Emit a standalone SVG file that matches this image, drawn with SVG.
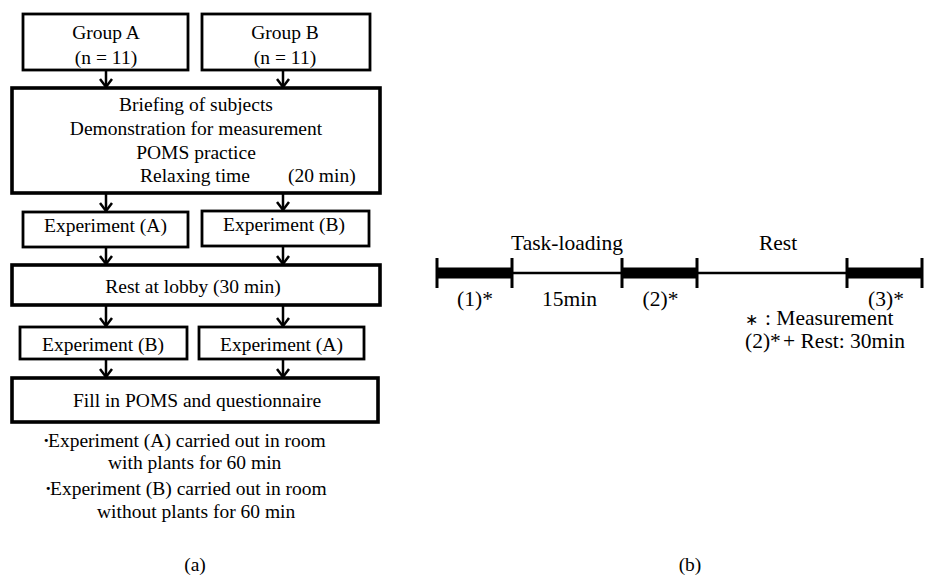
<svg xmlns="http://www.w3.org/2000/svg" width="925" height="576" viewBox="0 0 925 576">
<defs>
<style>
text{font-family:"Liberation Serif","Times New Roman",Times,serif;fill:#000;}
.cjk{font-family:"Noto Sans CJK JP","Noto Sans CJK SC",sans-serif;}
.t{font-size:19.5px;}
.c{text-anchor:middle;}
.r{font-size:21.5px;}
.box{fill:#fff;stroke:#000;stroke-width:2.8;}
.wide{fill:#fff;stroke:#000;stroke-width:3.6;}
.conn line{stroke:#000;stroke-width:2.5;fill:none;}
.tick{stroke:#000;stroke-width:3;}
.thin{stroke:#000;stroke-width:2.5;}
.thick{fill:#000;}
</style>
<marker id="ah" viewBox="-2 -2 14 16" refX="9" refY="6" markerWidth="14" markerHeight="16" markerUnits="userSpaceOnUse" orient="auto">
<path d="M1,0 L9,6 L1,12" fill="none" stroke="#000" stroke-width="2.5"/>
</marker>
</defs>
<rect width="925" height="576" fill="#fff"/>

<g id="groupA">
<rect class="box" x="23" y="14" width="165" height="56"/>
<text class="t c" x="106" y="39">Group A</text>
<text class="t c" x="106" y="64">(n = 11)</text>
</g>
<g id="groupB">
<rect class="box" x="202" y="14" width="168" height="56"/>
<text class="t c" x="285" y="39">Group B</text>
<text class="t c" x="285" y="64">(n = 11)</text>
</g>
<g id="briefing">
<rect class="wide" x="12" y="88" width="368" height="105"/>
<text class="t c" x="196" y="111">Briefing of subjects</text>
<text class="t c" x="196" y="135">Demonstration for measurement</text>
<text class="t c" x="196" y="159">POMS practice</text>
<text class="t" x="140" y="182">Relaxing time<tspan x="288">(20 min)</tspan></text>
</g>
<g id="expA1">
<rect class="box" x="23" y="212" width="165" height="35"/>
<text class="t c" x="105.5" y="232">Experiment (A)</text>
</g>
<g id="expB1">
<rect class="box" x="202" y="211" width="167" height="35"/>
<text class="t c" x="284" y="231">Experiment (B)</text>
</g>
<g id="rest">
<rect class="wide" x="12" y="265" width="368" height="40"/>
<text class="t c" x="193" y="293">Rest at lobby (30 min)</text>
</g>
<g id="expB2">
<rect class="box" x="20" y="327" width="167" height="32"/>
<text class="t c" x="103" y="351">Experiment (B)</text>
</g>
<g id="expA2">
<rect class="box" x="199" y="327" width="165" height="32"/>
<text class="t c" x="281.5" y="351">Experiment (A)</text>
</g>
<g id="fill">
<rect class="wide" x="12" y="378" width="366" height="44"/>
<text class="t c" x="197" y="407">Fill in POMS and questionnaire</text>
</g>

<g id="notes">
<text class="t" x="43" y="447"><tspan font-weight="bold">·</tspan><tspan x="48">Experiment (A) carried out in room</tspan></text>
<text class="t" x="108" y="469">with plants for 60 min</text>
<text class="t" x="45" y="495"><tspan font-weight="bold">·</tspan><tspan x="50">Experiment (B) carried out in room</tspan></text>
<text class="t" x="97" y="518">without plants for 60 min</text>
<text class="t c" x="195" y="571">(a)</text>
</g>

<g id="connectors" class="conn">
<line x1="106" y1="70" x2="106" y2="87" marker-end="url(#ah)"/>
<line x1="283" y1="70" x2="283" y2="87" marker-end="url(#ah)"/>
<line x1="106" y1="193" x2="106" y2="211" marker-end="url(#ah)"/>
<line x1="283" y1="193" x2="283" y2="210" marker-end="url(#ah)"/>
<line x1="106" y1="247" x2="106" y2="264" marker-end="url(#ah)"/>
<line x1="283" y1="246" x2="283" y2="264" marker-end="url(#ah)"/>
<line x1="106" y1="305" x2="106" y2="326" marker-end="url(#ah)"/>
<line x1="283" y1="305" x2="283" y2="326" marker-end="url(#ah)"/>
<line x1="106" y1="359" x2="106" y2="377" marker-end="url(#ah)"/>
<line x1="283" y1="359" x2="283" y2="377" marker-end="url(#ah)"/>
</g>

<g id="timeline">
<line class="thin" x1="512" y1="273" x2="622" y2="273"/>
<line class="thin" x1="697" y1="273" x2="847" y2="273"/>
<rect class="thick" x="437" y="267.5" width="75" height="11"/>
<rect class="thick" x="622" y="267.5" width="75" height="11"/>
<rect class="thick" x="847" y="267.5" width="75" height="11"/>
<line class="tick" x1="437" y1="258" x2="437" y2="288"/>
<line class="tick" x1="512" y1="258" x2="512" y2="288"/>
<line class="tick" x1="622" y1="258" x2="622" y2="288"/>
<line class="tick" x1="697" y1="258" x2="697" y2="288"/>
<line class="tick" x1="847" y1="258" x2="847" y2="288"/>
<line class="tick" x1="922" y1="258" x2="922" y2="288"/>
<text class="r c" x="567" y="250">Task-loading</text>
<text class="r c" x="778" y="250">Rest</text>
<text class="r c" x="475" y="306">(1)*</text>
<text class="r c" x="569.5" y="306">15min</text>
<text class="r c" x="660.5" y="306">(2)*</text>
<text class="r c" x="886" y="306">(3)*</text>
<text class="r" x="745" y="325"><tspan font-size="16">∗</tspan><tspan x="765">: Measurement</tspan></text>
<text class="r" x="745" y="348">(2)*<tspan x="783">+ Rest: 30min</tspan></text>
<text class="t c" x="690" y="571">(b)</text>
</g>
</svg>
